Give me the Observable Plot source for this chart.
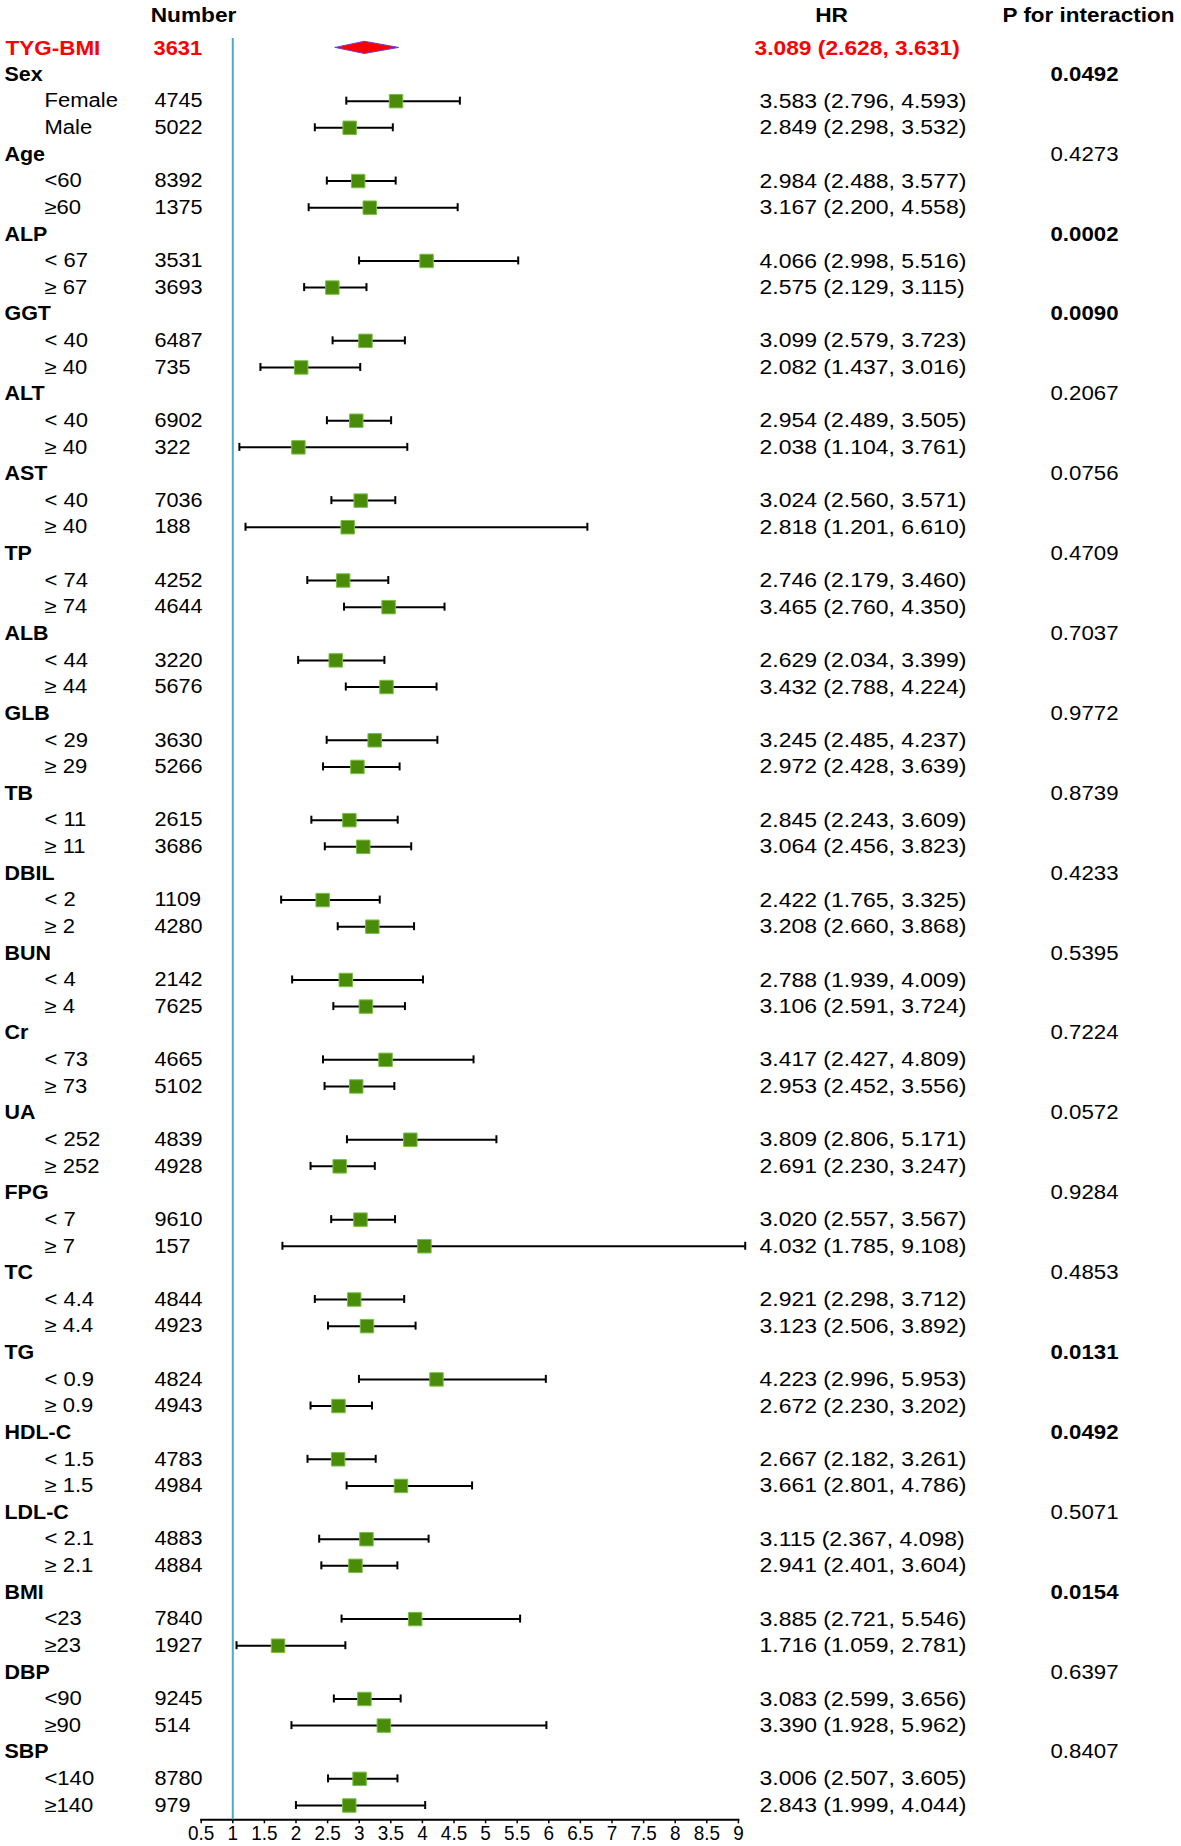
<!DOCTYPE html>
<html>
<head>
<meta charset="utf-8">
<script src="https://cdn.jsdelivr.net/npm/d3@7"></script>
<script src="https://cdn.jsdelivr.net/npm/@observablehq/plot@0.6"></script>
<style>
  html, body { margin: 0; padding: 0; background: #fff; }
  svg { display: block; }
</style>
</head>
<body>
<div id="chart"></div>
<script>
// ---------------- data ----------------
const overallLabel = "TYG-BMI";
const overallN = 3631;
const overallHR = 3.089, overallLo = 2.628, overallHi = 3.631;

const groupNames = ["Sex", "Age", "ALP", "GGT", "ALT", "AST", "TP", "ALB", "GLB", "TB", "DBIL",
  "BUN", "Cr", "UA", "FPG", "TC", "TG", "HDL-C", "LDL-C", "BMI", "DBP", "SBP"];
const groupP = [0.0492, 0.4273, 0.0002, 0.0090, 0.2067, 0.0756, 0.4709, 0.7037, 0.9772, 0.8739, 0.4233,
  0.5395, 0.7224, 0.0572, 0.9284, 0.4853, 0.0131, 0.0492, 0.5071, 0.0154, 0.6397, 0.8407];

const subLabels = ["Female", "Male", "<60", "≥60", "< 67", "≥ 67", "< 40", "≥ 40", "< 40", "≥ 40",
  "< 40", "≥ 40", "< 74", "≥ 74", "< 44", "≥ 44", "< 29", "≥ 29", "< 11", "≥ 11", "< 2", "≥ 2",
  "< 4", "≥ 4", "< 73", "≥ 73", "< 252", "≥ 252", "< 7", "≥ 7", "< 4.4", "≥ 4.4", "< 0.9", "≥ 0.9",
  "< 1.5", "≥ 1.5", "< 2.1", "≥ 2.1", "<23", "≥23", "<90", "≥90", "<140", "≥140"];
const subN = [4745, 5022, 8392, 1375, 3531, 3693, 6487, 735, 6902, 322, 7036, 188, 4252, 4644,
  3220, 5676, 3630, 5266, 2615, 3686, 1109, 4280, 2142, 7625, 4665, 5102, 4839, 4928, 9610, 157,
  4844, 4923, 4824, 4943, 4783, 4984, 4883, 4884, 7840, 1927, 9245, 514, 8780, 979];
const subHR = [3.583, 2.849, 2.984, 3.167, 4.066, 2.575, 3.099, 2.082, 2.954, 2.038, 3.024, 2.818,
  2.746, 3.465, 2.629, 3.432, 3.245, 2.972, 2.845, 3.064, 2.422, 3.208, 2.788, 3.106, 3.417, 2.953,
  3.809, 2.691, 3.020, 4.032, 2.921, 3.123, 4.223, 2.672, 2.667, 3.661, 3.115, 2.941, 3.885, 1.716,
  3.083, 3.390, 3.006, 2.843];
const subLo = [2.796, 2.298, 2.488, 2.200, 2.998, 2.129, 2.579, 1.437, 2.489, 1.104, 2.560, 1.201,
  2.179, 2.760, 2.034, 2.788, 2.485, 2.428, 2.243, 2.456, 1.765, 2.660, 1.939, 2.591, 2.427, 2.452,
  2.806, 2.230, 2.557, 1.785, 2.298, 2.506, 2.996, 2.230, 2.182, 2.801, 2.367, 2.401, 2.721, 1.059,
  2.599, 1.928, 2.507, 1.999];
const subHi = [4.593, 3.532, 3.577, 4.558, 5.516, 3.115, 3.723, 3.016, 3.505, 3.761, 3.571, 6.610,
  3.460, 4.350, 3.399, 4.224, 4.237, 3.639, 3.609, 3.823, 3.325, 3.868, 4.009, 3.724, 4.809, 3.556,
  5.171, 3.247, 3.567, 9.108, 3.712, 3.892, 5.953, 3.202, 3.261, 4.786, 4.098, 3.604, 5.546, 2.781,
  3.656, 5.962, 3.605, 4.044];

const xTicks = [0.5, 1, 1.5, 2, 2.5, 3, 3.5, 4, 4.5, 5, 5.5, 6, 6.5, 7, 7.5, 8, 8.5, 9];
const headerNumber = "Number", headerHR = "HR", headerP = "P for interaction";

// ---------------- tables built from the arrays ----------------
const fmtHR = (h, l, u) => `${h.toFixed(3)} (${l.toFixed(3)}, ${u.toFixed(3)})`;
const overall = [{row: 0, label: overallLabel, n: overallN, hr: overallHR, lo: overallLo, hi: overallHi,
  text: fmtHR(overallHR, overallLo, overallHi)}];
const headers = groupNames.map((g, i) => ({row: 1 + 3 * i, label: g, p: groupP[i], ptext: groupP[i].toFixed(4)}));
const subs = subLabels.map((s, k) => ({
  row: 2 + 3 * Math.floor(k / 2) + (k % 2),
  label: s, n: subN[k], hr: subHR[k], lo: subLo[k], hi: subHi[k],
  text: fmtHR(subHR[k], subLo[k], subHi[k])
}));
const lastRow = 1 + 3 * groupNames.length - 1;
const diamondHalf = 0.23; // half height of summary diamond, in row units
const diamond = [
  {x: overallLo, y1: 0, y2: 0},
  {x: overallHR, y1: -diamondHalf, y2: diamondHalf},
  {x: overallHi, y1: 0, y2: 0}
];

// ---------------- layout ----------------
const W = 1181, H = 1846;
const mL = 200.7, mR = 443.1, mT = 38, mB = 26.7;
const rowTop = 47.4, rowBottom = 1805;
const plotRight = W - mR;
const FONT = "'Liberation Sans', Arial, Helvetica, sans-serif";
const RED = "#ff0000";
const M = "middle";

// text marks, each paired with a horizontal stretch factor applied after render
const textSpecs = [
  // left label column
  [Plot.text(overall, {y: "row", text: "label", frameAnchor: "left", textAnchor: "start", lineAnchor: M, dx: 5 - mL,
    fill: RED, fontWeight: "bold", fontSize: 21}), 1.07],
  [Plot.text(headers, {y: "row", text: "label", frameAnchor: "left", textAnchor: "start", lineAnchor: M, dx: 4 - mL,
    fill: "#000", fontWeight: "bold", fontSize: 19.5}), 1.1],
  [Plot.text(subs, {y: "row", text: "label", frameAnchor: "left", textAnchor: "start", lineAnchor: M, dx: 44 - mL,
    fill: "#000", fontSize: 19.5}), 1.13],
  // number column
  [Plot.text(overall, {y: "row", text: d => String(d.n), frameAnchor: "left", textAnchor: "start", lineAnchor: M, dx: 153 - mL,
    fill: RED, fontWeight: "bold", fontSize: 21}), 1.04],
  [Plot.text(subs, {y: "row", text: d => String(d.n), frameAnchor: "left", textAnchor: "start", lineAnchor: M, dx: 154 - mL,
    fill: "#000", fontSize: 19.5}), 1.11],
  // HR column
  [Plot.text(overall, {y: "row", text: "text", frameAnchor: "right", textAnchor: "start", lineAnchor: M, dx: 754 - plotRight,
    fill: RED, fontWeight: "bold", fontSize: 21}), 1.085],
  [Plot.text(subs, {y: "row", text: "text", frameAnchor: "right", textAnchor: "start", lineAnchor: M, dx: 759 - plotRight,
    fill: "#000", fontSize: 20.5}), 1.12],
  // P column
  [Plot.text(headers.filter(d => d.p < 0.05), {y: "row", text: "ptext", frameAnchor: "right", textAnchor: "start", lineAnchor: M,
    dx: 1050 - plotRight, fill: "#000", fontWeight: "bold", fontSize: 19.5}), 1.14],
  [Plot.text(headers.filter(d => d.p >= 0.05), {y: "row", text: "ptext", frameAnchor: "right", textAnchor: "start", lineAnchor: M,
    dx: 1050 - plotRight, fill: "#000", fontSize: 19.5}), 1.14],
  // column headers
  [Plot.text([headerNumber], {text: d => d, frameAnchor: "top-left", textAnchor: "middle", lineAnchor: M, dx: 193 - mL, dy: 15 - mT,
    fill: "#000", fontWeight: "bold", fontSize: 21}), 1.08],
  [Plot.text([headerHR], {text: d => d, frameAnchor: "top-right", textAnchor: "middle", lineAnchor: M, dx: 831 - plotRight, dy: 15 - mT,
    fill: "#000", fontWeight: "bold", fontSize: 21}), 1.08],
  [Plot.text([headerP], {text: d => d, frameAnchor: "top-right", textAnchor: "middle", lineAnchor: M, dx: 1088 - plotRight, dy: 15 - mT,
    fill: "#000", fontWeight: "bold", fontSize: 21}), 1.07],
  // x tick labels (drawn at the tick values through the x scale)
  [Plot.text(xTicks, {x: d => d, text: d => String(d), frameAnchor: "bottom", textAnchor: "middle", lineAnchor: M, dy: 13,
    fill: "#000", fontSize: 21}), 0.9]
];

const chart = Plot.plot({
  width: W, height: H,
  marginLeft: mL, marginRight: mR, marginTop: mT, marginBottom: mB,
  style: {fontFamily: FONT, fontSize: "19.5px", color: "#000", background: "#fff"},
  x: {domain: [0.5, 9], ticks: xTicks, tickFormat: () => "", tickSize: 4, tickPadding: 0, line: true, label: null},
  y: {domain: [0, lastRow], range: [rowTop, rowBottom], axis: null},
  marks: [
    Plot.ruleX([1], {stroke: "#4bacc6", strokeWidth: 2}),
    // whiskers
    Plot.ruleY(subs, {y: "row", x1: "lo", x2: "hi", stroke: "#000", strokeWidth: 2}),
    Plot.ruleX(subs, {x: "lo", y1: "row", y2: "row", insetTop: -4, insetBottom: -4, stroke: "#000", strokeWidth: 2}),
    Plot.ruleX(subs, {x: "hi", y1: "row", y2: "row", insetTop: -4, insetBottom: -4, stroke: "#000", strokeWidth: 2}),
    Plot.dot(subs, {x: "hr", y: "row", symbol: "square", r: 7.6, fill: "#4a8c0a", stroke: "#79c144", strokeWidth: 1}),
    // summary diamond
    Plot.areaY(diamond, {x: "x", y1: "y1", y2: "y2", fill: RED, stroke: "#6f3fcf", strokeWidth: 1}),
    ...textSpecs.map(d => d[0])
  ]
});

document.getElementById("chart").appendChild(chart);

// horizontal glyph stretch to match the reference's wide text
const svg = document.querySelector("#chart svg");
const textGroups = Array.from(svg.children).filter(g => g.getAttribute("aria-label") === "text");
textGroups.forEach((g, i) => {
  const f = textSpecs[i] ? textSpecs[i][1] : 1;
  g.querySelectorAll("text").forEach(t => {
    const L = t.getComputedTextLength();
    if (L > 0) {
      t.setAttribute("textLength", (L * f).toFixed(2));
      t.setAttribute("lengthAdjust", "spacingAndGlyphs");
    }
  });
});

// axis line and ticks
svg.querySelectorAll('[aria-label="frame"], [aria-label="frame"] *, [aria-label^="x-axis"] path.domain').forEach(el => {
  el.setAttribute("stroke-width", 2);
});
svg.querySelectorAll('[aria-label="x-axis tick"]').forEach(el => el.setAttribute("stroke-width", 1.5));
</script>
</body>
</html>
